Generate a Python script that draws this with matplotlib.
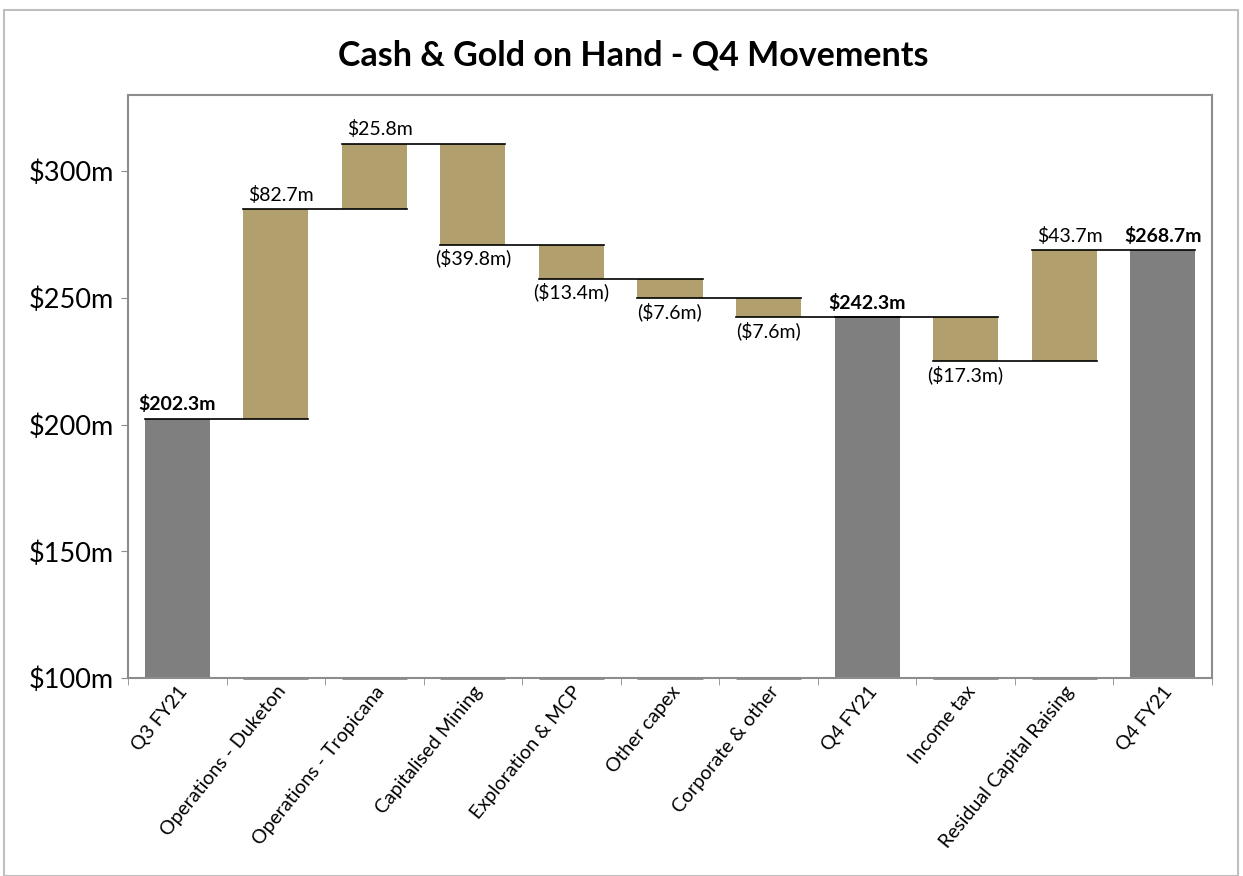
import numpy as np
import matplotlib
matplotlib.use('Agg')
import matplotlib.pyplot as plt
from matplotlib.patches import Rectangle
import matplotlib.transforms as mtransforms

plt.rcParams['font.family'] = ['Lato', 'DejaVu Sans']

# data
categories = ['Q3 FY21', 'Operations - Duketon', 'Operations - Tropicana',
              'Capitalised Mining', 'Exploration & MCP', 'Other capex',
              'Corporate & other', 'Q4 FY21', 'Income tax',
              'Residual Capital Raising', 'Q4 FY21']
# movements (totals marked separately)
values = [202.3, 82.7, 25.8, -39.8, -13.4, -7.6, -7.6, 242.3, -17.3, 43.7, 268.7]
is_total = [True, False, False, False, False, False, False, True, False, False, True]
labels = ['$202.3m', '$82.7m', '$25.8m', '($39.8m)', '($13.4m)', '($7.6m)',
          '($7.6m)', '$242.3m', '($17.3m)', '$43.7m', '$268.7m']
y_ticks = [100, 150, 200, 250, 300]
y_ticklabels = ['$100m', '$150m', '$200m', '$250m', '$300m']

gold = '#B1A06E'
grey = '#7F7F7F'
axis_grey = '#8C8C8C'
y_min, y_max = 100, 330

fig = plt.figure(figsize=(12.43, 8.76), dpi=100)
ax = fig.add_axes([128/1243, 1-678/876, (1212-128)/1243, (678-95)/876])

# outer chart frame
fig.patches.append(Rectangle((4/1243, 0), (1238-4)/1243, 1-10/876,
                             transform=fig.transFigure, fill=False,
                             edgecolor='#BFBFBF', linewidth=1.5))

x = np.arange(len(categories))
w = 0.66

# running totals
lows, highs, ends = [], [], []
run = 0
for v, t in zip(values, is_total):
    if t:
        lows.append(y_min); highs.append(v); run = v
    else:
        new = run + v
        lows.append(min(run, new)); highs.append(max(run, new)); run = new
    ends.append(run)

for i in range(len(x)):
    if is_total[i]:
        ax.bar(x[i], highs[i]-lows[i], bottom=lows[i], width=w, color=grey, zorder=2)
    else:
        ax.bar(x[i], highs[i]-lows[i], bottom=lows[i], width=w, color=gold, zorder=2)
        # faint base marker at the axis
        ax.plot([x[i]-w/2, x[i]+w/2], [y_min, y_min], color='#8A8A8A',
                linewidth=2, solid_capstyle='butt', zorder=3, clip_on=False)

# connectors: from left edge of bar i to right edge of bar i+1
for i in range(len(x)-1):
    ax.plot([x[i]-w/2, x[i+1]+w/2], [ends[i], ends[i]], color='black',
            linewidth=1.2, zorder=4)

# labels
for i in range(len(x)):
    if is_total[i]:
        ax.annotate(labels[i], (x[i], highs[i]), xytext=(0, 4), textcoords='offset points',
                    ha='center', va='bottom', fontsize=14, fontweight='bold')
    elif values[i] > 0:
        ax.annotate(labels[i], (x[i], highs[i]), xytext=(4, 4), textcoords='offset points',
                    ha='center', va='bottom', fontsize=14)
    else:
        ax.annotate(labels[i], (x[i], lows[i]), xytext=(0, -3), textcoords='offset points',
                    ha='center', va='top', fontsize=14)

ax.set_xlim(-0.5, len(x)-0.5)
ax.set_ylim(y_min, y_max)
ax.set_yticks(y_ticks)
ax.set_yticklabels(y_ticklabels, fontsize=19.5)
ax.set_xticks(np.arange(len(x)+1)-0.5, minor=True)
ax.set_xticks(x)
ax.set_xticklabels(categories, rotation=51, ha='right', rotation_mode='anchor', fontsize=14)
offset = mtransforms.ScaledTranslation(10/72, -14/72, fig.dpi_scale_trans)
for lab in ax.get_xticklabels():
    lab.set_transform(lab.get_transform() + offset)
ax.tick_params(axis='x', which='major', length=0)
ax.tick_params(axis='x', which='minor', length=5, color=axis_grey, direction='out')
ax.tick_params(axis='y', length=5, color=axis_grey, direction='out', pad=5)

for s in ax.spines.values():
    s.set_color(axis_grey)
    s.set_linewidth(1.5)

fig.text(633/1243, 1-55/876, 'Cash & Gold on Hand - Q4 Movements', ha='center', va='center',
         fontsize=24.5, fontweight='bold')

fig.savefig('out.png', dpi=100)
